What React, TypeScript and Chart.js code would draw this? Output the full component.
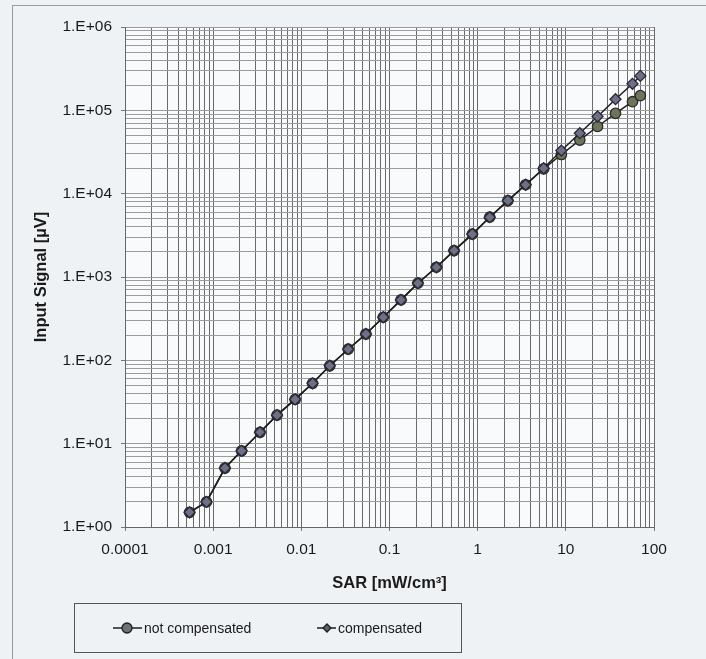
import React, { useEffect, useRef } from 'react';
import { Chart, registerables } from 'chart.js';

Chart.register(...registerables);

// ---- data ----
const sarValues = [0.00054, 0.00084, 0.00136, 0.0021, 0.0034, 0.0053, 0.0085, 0.0134, 0.021, 0.034, 0.054, 0.085, 0.135, 0.21, 0.34, 0.54, 0.87, 1.37, 2.2, 3.5, 5.6, 8.9, 14.4, 22.9, 36.6, 57, 70];
const notCompensated = [1.5, 2.0, 5.1, 8.2, 13.7, 22, 34, 53, 86, 136, 207, 329, 531, 843, 1310, 2075, 3270, 5220, 8260, 12800, 19800, 29500, 44000, 64000, 92000, 127000, 150000];
const compensated = [1.5, 2.0, 5.1, 8.2, 13.7, 22, 34, 53, 86, 136, 207, 329, 531, 843, 1310, 2075, 3270, 5220, 8260, 12800, 20200, 32900, 53200, 84300, 136000, 208000, 259000];
const xTickLabels = ['0.0001', '0.001', '0.01', '0.1', '1', '10', '100'];
const yTickLabels = ['1.E+00', '1.E+01', '1.E+02', '1.E+03', '1.E+04', '1.E+05', '1.E+06'];
const seriesNames = ['not compensated', 'compensated'];
const xTitle = 'SAR [mW/cm³]';
const yTitle = 'Input Signal [µV]';

const FONT = '"Liberation Sans", Arial, sans-serif';

const logTicks = (minExp: number, maxExp: number) => {
  const t: { value: number }[] = [];
  for (let e = minExp; e < maxExp; e++) {
    for (let m = 1; m <= 9; m++) t.push({ value: m * Math.pow(10, e) });
  }
  t.push({ value: Math.pow(10, maxExp) });
  return t;
};

const isMajor = (v: number) => {
  const lg = Math.log10(v);
  return Math.abs(lg - Math.round(lg)) < 1e-6;
};

const plotBg = {
  id: 'plotBg',
  beforeDraw(chart: any) {
    const { ctx, chartArea } = chart;
    ctx.save();
    ctx.fillStyle = '#f9fafb';
    ctx.fillRect(chartArea.left, chartArea.top, chartArea.right - chartArea.left, chartArea.bottom - chartArea.top);
    ctx.restore();
  },
};

const boxLegend = {
  id: 'boxLegend',
  afterDraw(chart: any) {
    const { ctx } = chart;
    ctx.save();
    ctx.strokeStyle = '#555';
    ctx.lineWidth = 1;
    ctx.strokeRect(74.5, 603.5, 387, 49);
    const cy = 628;
    const items = [
      { x0: 113, x1: 142, mx: 127, tx: 144, style: 'circle', r: 5, fill: '#6f7270' },
      { x0: 317, x1: 336, mx: 327, tx: 338, style: 'rectRot', r: 4, fill: '#5d5f6a' },
    ];
    items.forEach((it, i) => {
      ctx.strokeStyle = '#1e1e1e';
      ctx.lineWidth = 1.5;
      ctx.beginPath();
      ctx.moveTo(it.x0, cy);
      ctx.lineTo(it.x1, cy);
      ctx.stroke();
      ctx.fillStyle = it.fill;
      ctx.lineWidth = 1.3;
      ctx.beginPath();
      if (it.style === 'circle') {
        ctx.arc(it.mx, cy, it.r, 0, Math.PI * 2);
      } else {
        ctx.moveTo(it.mx, cy - it.r);
        ctx.lineTo(it.mx + it.r, cy);
        ctx.lineTo(it.mx, cy + it.r);
        ctx.lineTo(it.mx - it.r, cy);
        ctx.closePath();
      }
      ctx.fill();
      ctx.stroke();
      ctx.fillStyle = '#1a1a1a';
      ctx.font = `14px ${FONT}`;
      ctx.textBaseline = 'middle';
      ctx.textAlign = 'left';
      ctx.fillText(seriesNames[i], it.tx, cy + 1);
    });
    ctx.restore();
  },
};

export default function App() {
  const ref = useRef<HTMLCanvasElement>(null);

  useEffect(() => {
    if (!ref.current) return;
    const chart = new Chart(ref.current, {
      type: 'line',
      data: {
        datasets: [
          {
            label: seriesNames[1],
            data: sarValues.map((x, i) => ({ x, y: compensated[i] })),
            borderColor: '#1e1e1e',
            borderWidth: 1.5,
            pointStyle: 'rectRot',
            pointRadius: 5.5,
            pointBorderWidth: 1.3,
            pointBackgroundColor: '#6c7088',
            pointBorderColor: '#2a2a35',
            order: 0,
          },
          {
            label: seriesNames[0],
            data: sarValues.map((x, i) => ({ x, y: notCompensated[i] })),
            borderColor: '#1e1e1e',
            borderWidth: 1.5,
            pointStyle: 'circle',
            pointRadius: 5.2,
            pointBorderWidth: 1.3,
            pointBackgroundColor: '#6d7459',
            pointBorderColor: '#2a2a2a',
            order: 1,
          },
        ],
      },
      options: {
        animation: false,
        responsive: false,
        maintainAspectRatio: false,
        layout: { padding: { left: 28, top: 27, right: 52, bottom: 62 } },
        plugins: {
          legend: { display: false },
          tooltip: { enabled: false },
        },
        scales: {
          x: {
            type: 'logarithmic',
            min: 0.0001,
            max: 100,
            afterBuildTicks: (scale: any) => { scale.ticks = logTicks(-4, 2); },
            afterFit: (scale: any) => { scale.height = 70; },
            ticks: {
              autoSkip: false,
              maxRotation: 0,
              padding: 9,
              color: '#1a1a1a',
              font: { size: 15.5, family: FONT },
              callback: (v: any) => (isMajor(Number(v)) ? xTickLabels[Math.round(Math.log10(Number(v))) + 4] : ''),
            },
            grid: {
              color: '#6a6a6a',
              lineWidth: 1,
              tickLength: 4,
              tickColor: (ctx: any) => (ctx.tick && isMajor(ctx.tick.value) ? '#777' : 'rgba(0,0,0,0)'),
            },
            border: { display: true, color: '#666' },
            title: {
              display: true,
              text: xTitle,
              color: '#1a1a1a',
              font: { size: 16.5, weight: 'bold', family: FONT },
              padding: { top: 4, bottom: 4 },
            },
          },
          y: {
            type: 'logarithmic',
            min: 1,
            max: 1000000,
            afterBuildTicks: (scale: any) => { scale.ticks = logTicks(0, 6); },
            afterFit: (scale: any) => { scale.width = 97; },
            ticks: {
              autoSkip: false,
              padding: 9,
              color: '#1a1a1a',
              font: { size: 15.5, family: FONT },
              callback: (v: any) => (isMajor(Number(v)) ? yTickLabels[Math.round(Math.log10(Number(v)))] : ''),
            },
            grid: {
              color: '#9c9c9c',
              lineWidth: 1,
              tickLength: 4,
              tickColor: (ctx: any) => (ctx.tick && isMajor(ctx.tick.value) ? '#777' : 'rgba(0,0,0,0)'),
            },
            border: { display: true, color: '#666' },
            title: {
              display: true,
              text: yTitle,
              color: '#1a1a1a',
              font: { size: 16.5, weight: 'bold', family: FONT },
              padding: { top: 4, bottom: 4 },
            },
          },
        },
      },
      plugins: [plotBg, boxLegend],
    });
    return () => chart.destroy();
  }, []);

  return (
    <div style={{ position: 'absolute', left: 0, top: 0, width: 706, height: 659, background: '#eff2f5', overflow: 'hidden' }}>
      <div style={{ position: 'absolute', left: 12, top: 5, width: 720, height: 680, border: '1px solid #9a9a9a', boxSizing: 'border-box' }} />
      <canvas ref={ref} width={706} height={659} style={{ position: 'absolute', left: 0, top: 0, width: 706, height: 659 }} />
    </div>
  );
}
